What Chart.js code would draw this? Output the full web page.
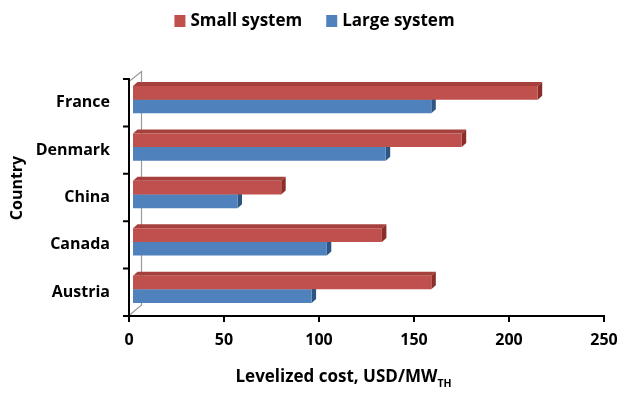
<!DOCTYPE html>
<html>
<head>
<meta charset="utf-8">
<script src="https://cdn.jsdelivr.net/npm/chart.js@4.4.0/dist/chart.umd.min.js"></script>
<style>
  html, body { margin: 0; padding: 0; background: #ffffff; }
  #wrap { position: relative; width: 619px; height: 394px; }
</style>
</head>
<body>
<div id="wrap"><canvas id="c" width="619" height="394"></canvas></div>
<script>
// Levelized cost by country, USD/MW_TH
const countries = ['France', 'Denmark', 'China', 'Canada', 'Austria'];
const smallSystem = [213, 173, 78, 131, 157];
const largeSystem = [157, 133, 55, 102, 94];
const seriesNames = ['Small system', 'Large system'];
const xTickValues = [0, 50, 100, 150, 200, 250];
const xTitleMain = 'Levelized cost, USD/MW';
const xTitleSub = 'TH';
const yTitle = 'Country';

const FONT = '"Open Sans", Lato, sans-serif';
const FRONT = ['#C0504D', '#4F81BD'];
const TOP = ['#A5403D', '#3E6A9E'];
const SIDE = ['#8A2E2B', '#2D5583'];

// Depth of each bar's 3-D faces, and offset of the front axes
const DEPTH_X = 4.5, DEPTH_Y = 4;
const AX_DX = -4, AX_DY = 3;

// Back wall outline and the side/top faces of the bars
const depthFaces = {
  id: 'depthFaces',
  beforeDatasetsDraw(chart) {
    const ctx = chart.ctx;
    const a = chart.chartArea;
    ctx.save();
    ctx.strokeStyle = '#9a9a9a';
    ctx.lineWidth = 1.2;
    ctx.beginPath();
    ctx.moveTo(a.left - 3, a.top + 4.7);
    ctx.lineTo(a.left + 8.5, a.top - 4.5);
    ctx.lineTo(a.left + 8.5, a.bottom - 8);
    ctx.lineTo(a.left - 3, a.bottom + 1.7);
    ctx.stroke();

    chart.data.datasets.forEach((ds, di) => {
      const meta = chart.getDatasetMeta(di);
      meta.data.forEach(bar => {
        const p = bar.getProps(['x', 'y', 'base', 'height'], true);
        const x0 = p.base, x1 = p.x;
        const y0 = p.y - p.height / 2, y1 = p.y + p.height / 2;
        ctx.fillStyle = TOP[di];
        ctx.beginPath();
        ctx.moveTo(x0, y0);
        ctx.lineTo(x0 + DEPTH_X, y0 - DEPTH_Y);
        ctx.lineTo(x1 + DEPTH_X, y0 - DEPTH_Y);
        ctx.lineTo(x1, y0);
        ctx.closePath();
        ctx.fill();
        ctx.fillStyle = SIDE[di];
        ctx.beginPath();
        ctx.moveTo(x1, y0);
        ctx.lineTo(x1 + DEPTH_X, y0 - DEPTH_Y);
        ctx.lineTo(x1 + DEPTH_X, y1 - DEPTH_Y);
        ctx.lineTo(x1, y1);
        ctx.closePath();
        ctx.fill();
      });
    });
    ctx.restore();
  }
};

// Front axis lines, tick marks, axis titles and legend
const frontAxes = {
  id: 'frontAxes',
  afterDraw(chart) {
    const ctx = chart.ctx;
    const a = chart.chartArea;
    const xs = chart.scales.x;
    const axX = a.left + AX_DX;
    const axY = a.bottom + AX_DY;
    const band = (a.bottom - a.top) / countries.length;
    ctx.save();
    ctx.strokeStyle = '#000000';
    ctx.lineWidth = 2;
    ctx.lineCap = 'butt';
    ctx.beginPath();
    ctx.moveTo(axX, a.top + AX_DY - 1);
    ctx.lineTo(axX, axY + 6);
    for (let i = 0; i <= countries.length; i++) {
      const y = a.top + AX_DY + i * band;
      ctx.moveTo(axX - 6, y);
      ctx.lineTo(axX + 1, y);
    }
    const xEnd = xs.getPixelForValue(xTickValues[xTickValues.length - 1]) + AX_DX;
    ctx.moveTo(axX - 6, axY);
    ctx.lineTo(xEnd + 1, axY);
    xTickValues.forEach(v => {
      const x = xs.getPixelForValue(v) + AX_DX;
      ctx.moveTo(x, axY - 1);
      ctx.lineTo(x, axY + 6);
    });
    ctx.stroke();

    ctx.fillStyle = '#000000';
    // x title with subscript
    ctx.font = 'bold 17px ' + FONT;
    const w1 = ctx.measureText(xTitleMain).width;
    ctx.font = 'bold 10.5px ' + FONT;
    const w2 = ctx.measureText(xTitleSub).width;
    const tx = 343.5 - (w1 + w2) / 2;
    ctx.textBaseline = 'alphabetic';
    ctx.textAlign = 'left';
    ctx.font = 'bold 17px ' + FONT;
    ctx.fillText(xTitleMain, tx, 382);
    ctx.font = 'bold 10.5px ' + FONT;
    ctx.fillText(xTitleSub, tx + w1, 386.5);

    // y title
    ctx.save();
    ctx.translate(17, 188);
    ctx.rotate(-Math.PI / 2);
    ctx.font = 'bold 16px ' + FONT;
    ctx.textAlign = 'center';
    ctx.textBaseline = 'middle';
    ctx.fillText(yTitle, 0, 0);
    ctx.restore();

    // legend, centred across the canvas
    ctx.font = 'bold 17px ' + FONT;
    ctx.textAlign = 'left';
    ctx.textBaseline = 'middle';
    const boxW = 11, boxH = 12, gapText = 5, gapItem = 24;
    let total = 0;
    seriesNames.forEach((name, i) => {
      total += boxW + gapText + ctx.measureText(name).width + (i ? gapItem : 0);
    });
    let lx = (chart.width - total) / 2 + 5;
    const ly = 21;
    seriesNames.forEach((name, i) => {
      ctx.fillStyle = FRONT[i];
      ctx.fillRect(lx, ly - boxH / 2, boxW, boxH);
      ctx.fillStyle = '#000000';
      ctx.fillText(name, lx + boxW + gapText, ly);
      lx += boxW + gapText + ctx.measureText(name).width + gapItem;
    });
    ctx.restore();
  }
};

new Chart(document.getElementById('c'), {
  type: 'bar',
  data: {
    labels: countries,
    datasets: [
      { label: seriesNames[0], data: smallSystem, backgroundColor: FRONT[0], borderWidth: 0 },
      { label: seriesNames[1], data: largeSystem, backgroundColor: FRONT[1], borderWidth: 0 }
    ]
  },
  options: {
    indexAxis: 'y',
    responsive: false,
    animation: false,
    devicePixelRatio: 1,
    layout: { padding: { top: 76, right: 11, bottom: 0, left: 0 } },
    datasets: { bar: { categoryPercentage: 0.575, barPercentage: 1 } },
    plugins: {
      legend: { display: false },
      tooltip: { enabled: false }
    },
    scales: {
      x: {
        type: 'linear',
        min: 0,
        max: 250,
        afterBuildTicks(scale) { scale.ticks = xTickValues.map(v => ({ value: v })); },
        afterFit(scale) { scale.height = 81; scale.paddingLeft = 0; scale.paddingRight = 0; },
        grid: { display: false, drawTicks: false },
        border: { display: false },
        ticks: {
          padding: 18,
          labelOffset: AX_DX,
          color: '#000000',
          font: { family: FONT, size: 16, weight: 'bold' },
          maxRotation: 0
        }
      },
      y: {
        type: 'category',
        afterFit(scale) { scale.width = 133; scale.paddingTop = 0; scale.paddingBottom = 0; },
        grid: { display: false, drawTicks: false },
        border: { display: false },
        ticks: {
          padding: 23,
          labelOffset: AX_DY,
          color: '#000000',
          font: { family: FONT, size: 16, weight: 'bold' }
        }
      }
    }
  },
  plugins: [depthFaces, frontAxes]
});
</script>
</body>
</html>
